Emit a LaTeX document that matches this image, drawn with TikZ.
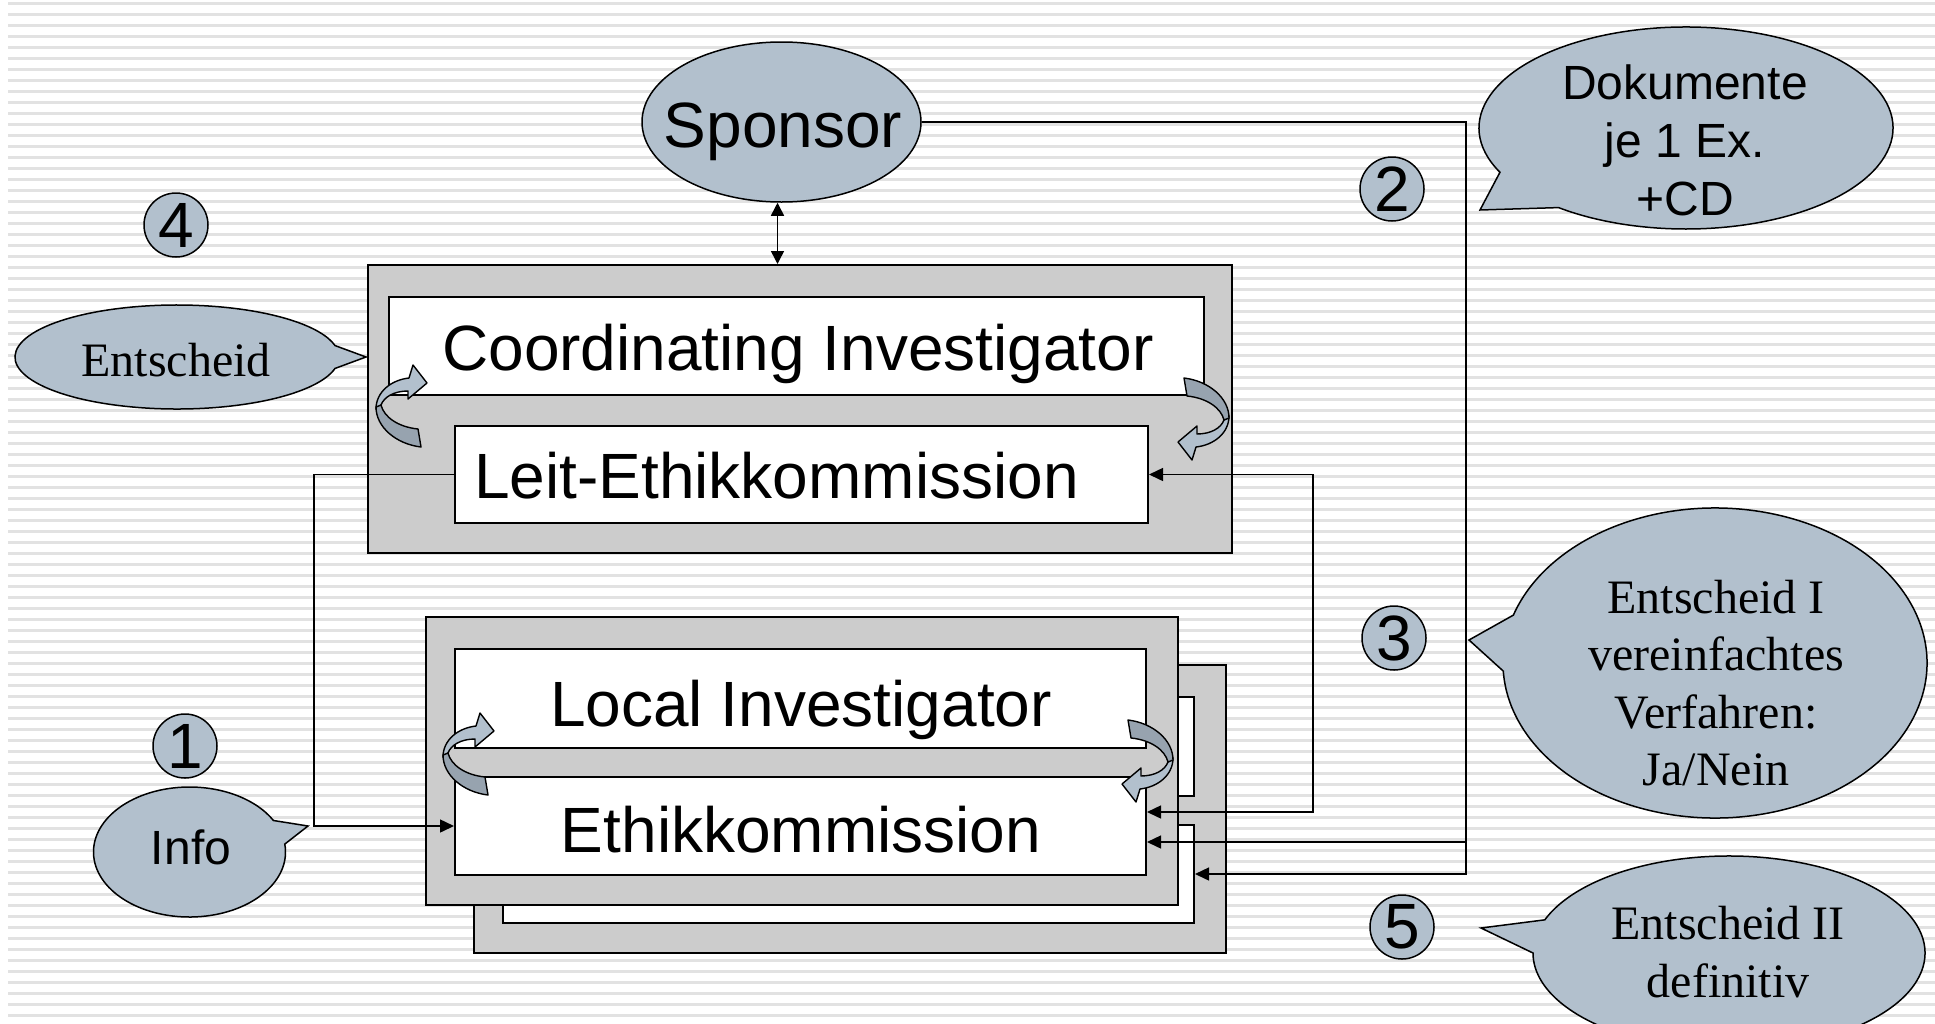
\documentclass[tikz,border=0pt]{standalone}
\usepackage{fontspec}
\setmainfont{Liberation Sans}
\newfontfamily\tnr{Liberation Serif}
\usetikzlibrary{shapes.geometric,arrows.meta,calc}
\definecolor{calight}{HTML}{B2C0CD}
\definecolor{cadark}{HTML}{97A3AF}
\definecolor{boxgray}{HTML}{CCCCCC}
\definecolor{stripegray}{HTML}{E2E2E2}
\tikzset{
  curv/.pic={
    \path[draw=black, line width=1.4pt, fill=calight, line join=round]
      (0,2) .. controls (0,-15) and (15,-27) .. (33,-29) -- (37,-42) -- (51,-24)
      -- (32,-8) -- (32,-16) .. controls (18,-16) and (8,-10) .. (5,-2) -- cycle;
    \path[draw=black, line width=1.4pt, fill=cadark, line join=round]
      (0,0) .. controls (0,20) and (20,37) .. (45,40) -- (42,22)
      .. controls (22,20) and (8,10) .. (5,-2) -- cycle;
  }
}
\begin{document}
\begin{tikzpicture}[x=1pt,y=-1pt,
  bigtxt/.style={font=\fontsize{64}{70}\selectfont, inner sep=0pt},
  midtxt/.style={font=\fontsize{48}{58}\selectfont, inner sep=0pt, align=center},
  sertxt/.style={font=\tnr\fontsize{48}{57.5}\selectfont, inner sep=0pt, align=center},
  graybox/.style={draw=black, line width=2pt, fill=boxgray, rectangle, inner sep=0pt},
  whitebox/.style={draw=black, line width=2pt, fill=white, rectangle, inner sep=0pt},
  conn/.style={draw=black, line width=1.5pt},
  arr/.style={-{Triangle[length=14pt,width=13pt]}},
  darr/.style={{Triangle[length=14pt,width=13pt]}-{Triangle[length=14pt,width=13pt]}},
  smalldarr/.style={{Triangle[length=13pt,width=13pt]}-{Triangle[length=13pt,width=13pt]}},
  callout/.style={fill=calight, draw=black, line width=1.5pt},
  numc/.style={circle, fill=calight, draw=black, line width=1.5pt, minimum size=64pt,
    inner sep=0pt, font=\fontsize{64}{70}\selectfont},
  stripeline/.style={draw=stripegray, line width=3pt}
]
\clip (0,0) rectangle (1935,1023);
\fill[white] (0,0) rectangle (1935,1023);
\foreach \k in {0,...,92} \draw[stripeline] (8,{3.3+11*\k}) -- (1935,{3.3+11*\k});

% upper group
\node[graybox, minimum width=864pt, minimum height=288pt] (topbox) at (800,409) {};
\node[whitebox, minimum width=815pt, minimum height=98pt] (coord) at (796.5,346) {};
\node[whitebox, minimum width=693pt, minimum height=97pt] (leit) at (801.5,474.5) {};
\node[bigtxt, anchor=base] (coordtxt) at (798,370) {Coordinating Investigator};
\node[bigtxt, anchor=base west] (leittxt) at (474,498) {Leit-Ethikkommission};

% lower group (back copy)
\node[graybox, minimum width=752pt, minimum height=288pt] (backbox) at (850,809) {};
\node[whitebox, minimum width=691pt, minimum height=99pt] (backlocal) at (848.5,746.5) {};
\node[whitebox, minimum width=691pt, minimum height=98pt] (backethik) at (848.5,874) {};
% lower group (front)
\node[graybox, minimum width=752pt, minimum height=288pt] (frontbox) at (802,761) {};
\node[whitebox, minimum width=691pt, minimum height=99pt] (local) at (800.5,698.5) {};
\node[whitebox, minimum width=691pt, minimum height=98pt] (ethik) at (800.5,826) {};
\node[bigtxt, anchor=base] (localtxt) at (801,726) {Local Investigator};
\node[bigtxt, anchor=base] (ethiktxt) at (801,852) {Ethikkommission};

% curved arrows
\pic (ca1) at (376,407) {curv};
\pic[rotate=180] (ca2) at (1229,418) {curv};
\pic (ca3) at (443,755) {curv};
\pic[rotate=180] (ca4) at (1173,760) {curv};

% sponsor
\node[ellipse, fill=calight, draw=black, line width=1.5pt, minimum width=279pt,
  minimum height=160pt, inner sep=0pt] (sponsor) at (781.5,122) {};
\node[bigtxt, anchor=base] (sponsortxt) at (783,147) {Sponsor};

% connectors
\coordinate (spb) at ($(sponsor.south)+(-4,0)$);
\draw[conn, smalldarr] (spb) -- (spb |- topbox.north);
\draw[conn, arr] (leit.west) -- ++(-140,0) |- (ethik.west);
\draw[conn, darr] (leit.east) -- ++(164,0) |- ($(ethik.east)+(0,-14)$);
\draw[conn, arr] (sponsor.east) -- ++(544,0) |- (backethik.east);
\coordinate (br) at (1465,842);
\draw[conn, arr] (br) -- ($(ethik.east)+(0,16)$);

% callouts
\path[callout] ($(177,357)+(12.7:162 and 52)$)
  arc[start angle=12.7, end angle=347.3, x radius=162, y radius=52] -- (366,357) -- cycle;
\node[sertxt, anchor=base] (entscheid) at (176,376) {Entscheid};

\path[callout] ($(189.5,852)+(-7:96 and 65)$)
  arc[start angle=-7, end angle=331, x radius=96, y radius=65] -- (308,826) -- cycle;
\node[midtxt, anchor=base] (info) at (191,864) {Info};

\path[callout] ($(1686,128)+(154:207 and 101)$)
  arc[start angle=154, end angle=488, x radius=207, y radius=101] -- (1480,210) -- cycle;
\node[midtxt] (doku) at (1685,140.5) {Dokumente\\je 1 Ex.\\+CD};

\path[callout] ($(1715,663)+(198:212 and 155)$)
  arc[start angle=198, end angle=537, x radius=212, y radius=155] -- (1469,640) -- cycle;
\node[sertxt] (ent1) at (1716,683) {Entscheid I\\vereinfachtes\\Verfahren:\\Ja/Nein};

\path[callout] ($(1729,953)+(200:196 and 97)$)
  arc[start angle=200, end angle=540, x radius=196, y radius=97] -- (1481,928) -- cycle;
\node[sertxt] (ent2) at (1728,952) {Entscheid II\\definitiv};

% numbered circles
\node[numc] (n1) at (185,746) {1};
\node[numc] (n2) at (1392,189) {2};
\node[numc] (n3) at (1394,638) {3};
\node[numc] (n4) at (176,225) {4};
\node[numc] (n5) at (1402,927) {5};
\end{tikzpicture}
\end{document}
